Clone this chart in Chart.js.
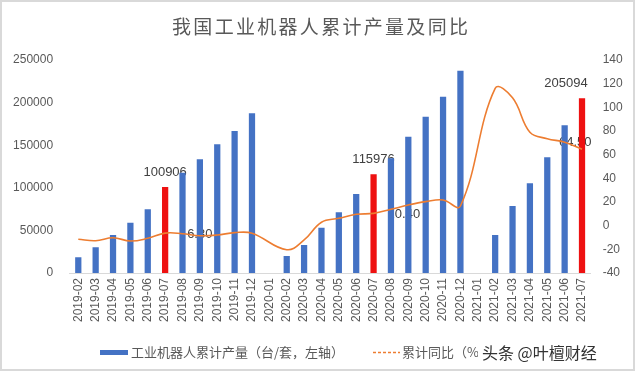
<!DOCTYPE html>
<html>
<head>
<meta charset="utf-8">
<script src="https://cdn.jsdelivr.net/npm/chart.js@4/dist/chart.umd.min.js"></script>
<style>
  html, body { margin: 0; padding: 0; background: #ffffff; }
  canvas { display: block; }
</style>
</head>
<body>
<canvas id="c" width="640" height="374"></canvas>
<script>
// ---- data ----
const categories = [
  '2019-02','2019-03','2019-04','2019-05','2019-06','2019-07','2019-08','2019-09','2019-10','2019-11','2019-12',
  '2020-01','2020-02','2020-03','2020-04','2020-05','2020-06','2020-07','2020-08','2020-09','2020-10','2020-11','2020-12',
  '2021-01','2021-02','2021-03','2021-04','2021-05','2021-06','2021-07'
];
const outputValues = [
  18400, 30200, 44600, 59000, 74700, 100906, 117700, 133400, 151000, 166700, 187400,
  null, 20000, 32900, 53200, 71200, 92700, 115976, 134600, 160000, 183500, 207000, 237400,
  null, 44600, 78600, 105200, 135800, 173300, 205094
];
const yoyValues = [
  -11.5, -12.7, -10.2, -13.0, -10.7, -6.3, -6.8, -8.5, -7.9, -5.9, -6.4,
  null, -20.3, -12.1, 2.9, 6.2, 9.6, 10.4, 13.8, 17.5, 20.3, 21.7, 16.6,
  null, 116, 108, 79, 73.5, 70.5, 64.5
];
const highlightMonths = ['2019-07', '2020-07', '2021-07'];
const leftTicks = [0, 50000, 100000, 150000, 200000, 250000];
const rightTicks = [-40, -20, 0, 20, 40, 60, 80, 100, 120, 140];

const titleText = '我国工业机器人累计产量及同比';
const barLegend = '工业机器人累计产量（台/套，左轴）';
const lineLegend = '累计同比（%，右轴）';
const watermark = '头条 @叶檀财经';

// ---- styles ----
const BLUE = '#4472C4';
const RED = '#EE1111';
const ORANGE = '#ED7D31';
const TXT = '#595959';
const NUM_FONT = "'Liberation Sans', Arial, 'Noto Sans CJK SC', sans-serif";
const CJK_FONT = "'Noto Sans CJK SC', 'Liberation Sans', sans-serif";

const barColors = categories.map(c => highlightMonths.includes(c) ? RED : BLUE);
const hlIdx = highlightMonths.map(m => categories.indexOf(m));

const overlay = {
  id: 'overlay',
  beforeDraw(chart) {
    const ctx = chart.ctx;
    ctx.save();
    ctx.fillStyle = '#ffffff';
    ctx.fillRect(0, 0, chart.width, chart.height);
    ctx.restore();
  },
  beforeDatasetsDraw(chart) {
    const ctx = chart.ctx;
    const barMeta = chart.getDatasetMeta(0);
    const lineMeta = chart.getDatasetMeta(1);
    const barOff = [0, 0, -16];
    const lineOff = [[22, 1], [14, 1], [-23, -6.5]];
    ctx.save();
    ctx.font = '13px ' + NUM_FONT;
    ctx.fillStyle = '#404040';
    ctx.textBaseline = 'middle';
    hlIdx.forEach((i, k) => {
      const b = barMeta.data[i];
      ctx.textAlign = 'center';
      ctx.fillText(String(outputValues[i]), b.x + barOff[k], b.y - 15);
      const p = lineMeta.data[i];
      const o = lineOff[k];
      ctx.textAlign = 'left';
      ctx.fillText(Math.abs(yoyValues[i]).toFixed(2), p.x + o[0], p.y + o[1]);
    });
    ctx.restore();
  },
  afterDraw(chart) {
    const ctx = chart.ctx;
    ctx.save();
    // title, drawn glyph by glyph with slight spacing
    ctx.font = '19px ' + CJK_FONT;
    ctx.fillStyle = TXT;
    ctx.textBaseline = 'middle';
    ctx.textAlign = 'center';
    const chars = Array.from(titleText);
    const pitch = 21.3;
    const x0 = 320 - pitch * (chars.length - 1) / 2;
    chars.forEach((ch, i) => ctx.fillText(ch, x0 + i * pitch, 27));

    // legend
    ctx.textAlign = 'left';
    ctx.fillStyle = BLUE;
    ctx.fillRect(100, 350, 28, 5);
    ctx.font = '13px ' + CJK_FONT;
    ctx.fillStyle = TXT;
    ctx.fillText(barLegend, 131, 352.5);
    ctx.strokeStyle = ORANGE;
    ctx.lineWidth = 1.5;
    ctx.setLineDash([3, 2]);
    ctx.beginPath();
    ctx.moveTo(373, 352.5);
    ctx.lineTo(400, 352.5);
    ctx.stroke();
    ctx.setLineDash([]);
    ctx.fillText(lineLegend, 402, 352.5);

    // watermark
    ctx.fillStyle = '#ffffff';
    ctx.fillRect(478, 341, 120, 23);
    ctx.font = '16px ' + CJK_FONT;
    ctx.fillStyle = '#333333';
    ctx.fillText(watermark, 482, 352.5);

    // frame
    ctx.strokeStyle = '#d9d9d9';
    ctx.lineWidth = 2;
    ctx.strokeRect(1, 1, 633, 369);
    ctx.restore();
  }
};

new Chart(document.getElementById('c'), {
  data: {
    labels: categories,
    datasets: [
      {
        type: 'bar',
        label: barLegend,
        data: outputValues,
        backgroundColor: barColors,
        yAxisID: 'y',
        categoryPercentage: 1,
        barPercentage: 0.36,
        order: 1
      },
      {
        type: 'line',
        label: lineLegend,
        data: yoyValues,
        borderColor: ORANGE,
        borderWidth: 1.6,
        pointRadius: 0,
        tension: 0.4,
        spanGaps: true,
        fill: false,
        yAxisID: 'y1',
        order: 0
      }
    ]
  },
  options: {
    responsive: false,
    devicePixelRatio: 1,
    animation: false,
    layout: { padding: { top: 60, left: 0, right: 0, bottom: 0 } },
    plugins: {
      legend: { display: false },
      title: { display: false },
      tooltip: { enabled: false }
    },
    scales: {
      x: {
        type: 'category',
        offset: true,
        grid: { display: false, drawTicks: false },
        border: { display: true, color: '#d9d9d9', width: 1 },
        ticks: {
          autoSkip: false,
          maxRotation: 90,
          minRotation: 90,
          padding: 5,
          color: TXT,
          font: { family: NUM_FONT, size: 12 }
        },
        afterFit(s) { s.height = 101; }
      },
      y: {
        position: 'left',
        min: 0,
        max: 250000,
        afterBuildTicks(s) { s.ticks = leftTicks.map(v => ({ value: v })); },
        grid: { display: false, drawTicks: false },
        border: { display: false },
        ticks: {
          padding: 16.5,
          color: TXT,
          font: { family: NUM_FONT, size: 12 },
          callback: v => String(v)
        },
        afterFit(s) { s.width = 69.6; }
      },
      y1: {
        position: 'right',
        min: -40,
        max: 140,
        afterBuildTicks(s) { s.ticks = rightTicks.map(v => ({ value: v })); },
        grid: { display: false, drawTicks: false },
        border: { display: false },
        ticks: {
          padding: 12,
          color: TXT,
          font: { family: NUM_FONT, size: 12 },
          callback: v => String(v)
        },
        afterFit(s) { s.width = 49.3; }
      }
    }
  },
  plugins: [overlay]
});
</script>
</body>
</html>
